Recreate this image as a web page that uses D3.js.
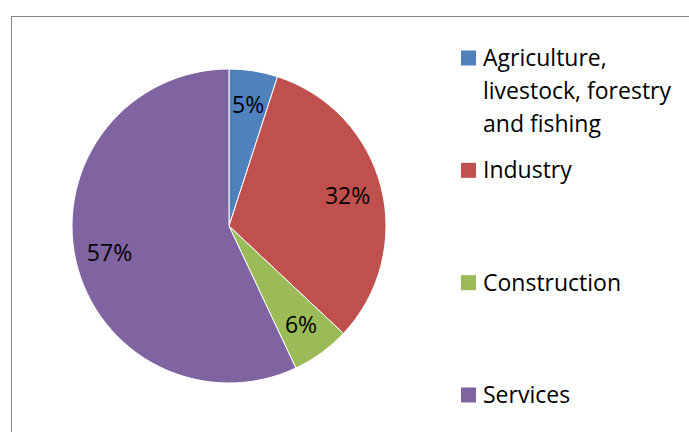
<!DOCTYPE html>
<html>
<head>
<meta charset="utf-8">
<script src="https://cdn.jsdelivr.net/npm/d3@7"></script>
<style>
	body { margin: 0; background: #fff; }
	svg { display: block; }
</style>
</head>
<body>
<svg id="pie-plot" width="689" height="432" viewBox="0 0 689 432"></svg>
<script>

// sector shares of the economy, in percent
const sectors = ["Agriculture, livestock, forestry and fishing", "Industry", "Construction", "Services"];
const shares = [5, 32, 6, 57];
const colors = ["#4f81bd", "#c0504d", "#9bbb59", "#8064a2"];
// legend text broken into lines as in the picture
const legend_lines = [["Agriculture,", "livestock, forestry", "and fishing"], ["Industry"], ["Construction"], ["Services"]];

class PiePlot {

	constructor(svg_element_id) {
		this.svg = d3.select('#' + svg_element_id);

		const font = "'Open Sans', 'Noto Sans', sans-serif";

		// frame of the chart area
		this.svg.append("rect")
			.attr("x", 11.5).attr("y", 16.5)
			.attr("width", 700).attr("height", 450)
			.attr("fill", "#fff")
			.attr("stroke", "#868686")
			.attr("stroke-width", 1);

		const cx = 229, cy = 226, radius = 157;

		const data = sectors.map((s, i) => ({ name: s, value: shares[i], color: colors[i] }));

		const pie = d3.pie()
			.sort(null)
			.value(d => d.value);

		const arc = d3.arc()
			.innerRadius(0)
			.outerRadius(radius);

		const label_arc = d3.arc()
			.innerRadius(radius * 0.78)
			.outerRadius(radius * 0.78);

		const g = this.svg.append("g")
			.attr("transform", `translate(${cx},${cy})`);

		const arcs = pie(data);

		g.selectAll("path")
			.data(arcs)
			.enter()
			.append("path")
			.attr("d", arc)
			.attr("fill", d => d.data.color)
			.attr("stroke", "#fff")
			.attr("stroke-width", 1);

		g.selectAll("text")
			.data(arcs)
			.enter()
			.append("text")
			.attr("transform", d => `translate(${label_arc.centroid(d)})`)
			.attr("text-anchor", "middle")
			.attr("dy", "0.35em")
			.style("font-family", font)
			.style("font-size", "23px")
			.style("fill", "#000")
			.text(d => d.data.value + "%");

		// legend
		const legend_y = d3.scalePoint()
			.domain(sectors)
			.range([58, 395]);

		const line_h = 33;

		const items = this.svg.selectAll("g.legend")
			.data(data)
			.enter()
			.append("g")
			.attr("class", "legend")
			.attr("transform", d => `translate(461,${legend_y(d.name)})`);

		items.append("rect")
			.attr("x", 0).attr("y", -7.5)
			.attr("width", 15).attr("height", 15)
			.attr("fill", d => d.color);

		items.each(function(d, i) {
			const t = d3.select(this).append("text")
				.style("font-family", font)
				.style("font-size", "23px")
				.style("fill", "#000");
			legend_lines[i].forEach((line, j) => {
				t.append("tspan")
					.attr("x", 22)
					.attr("y", j * line_h)
					.attr("dy", "0.35em")
					.text(line);
			});
		});
	}

}

function whenDocumentLoaded(action) {
	if (document.readyState === "loading") {
		document.addEventListener("DOMContentLoaded", action);
	} else {
		action();
	}
}

whenDocumentLoaded(() => {
	plot_object = new PiePlot('pie-plot');
});
</script>
</body>
</html>
